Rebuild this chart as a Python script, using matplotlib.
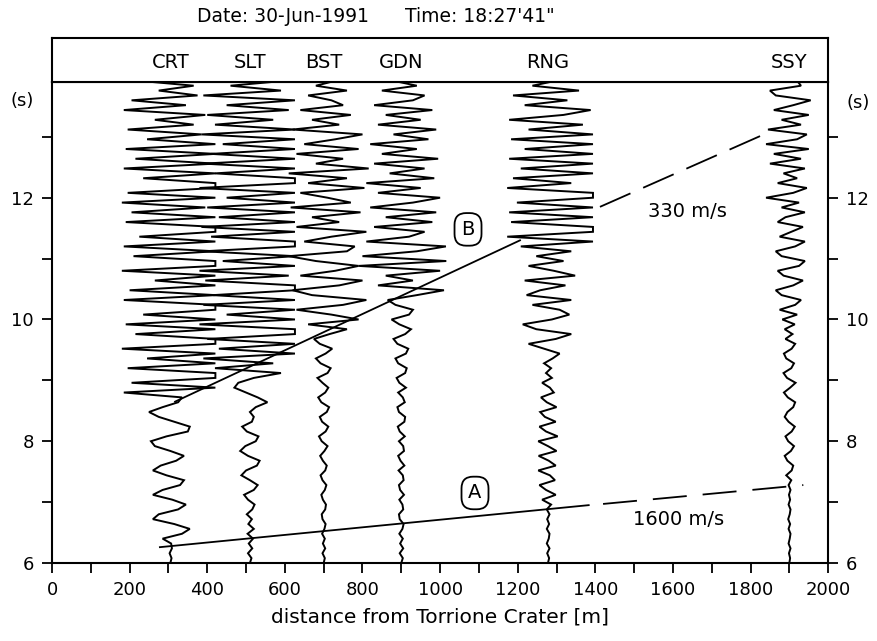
import numpy as np
import matplotlib
matplotlib.use('Agg')
import matplotlib.pyplot as plt
from matplotlib.ticker import MultipleLocator

plt.rcParams['font.family'] = ['DejaVu Sans']
plt.rcParams['lines.scale_dashes'] = False

# stations and their distance from the crater (m)
stations = ['CRT', 'SLT', 'BST', 'GDN', 'RNG', 'SSY']
distance = [305, 510, 700, 900, 1278, 1900]

# traces sampled every 0.08 s from 6.0 s, amplitude as offset in m
t_start = 6.0
dt = 0.08
clip_lo, clip_hi = -130, 116

crt = [0, 3, -2, 4, 2,
       -20, 30, 50, 10, -45, -30, 20, 40, 5, -45, -20, 25, 35, -10, -45,
       -25, 15, 35, 0, -40, -50, -10, 45, 50, 10, -30, -55, -20, 20, 30,
       -120, 200, -100, 200, 200, -110, 200, -60, 150, -125, 200, 200, -90,
       200, -115, 120, -70, 200, 200, -120, 200, -105, 200, -40, 200, -125,
       200, 200, -95, 200, -120, 200, -80, 200, 200, -115, 200, -100, 90,
       -125, 200, -110, 200, 200, -70, 200, -120, 200, -90, 200, -115, 160, -60,
       80, -110, 60, -40, 90, -120, 40, -100, 70, -30, 60, -80]

slt = [0, 4, -5, 6, -3, 8, -6, 10, -4, 5, -8, 6, 12, -5, -15, 10, 20, 0,
       -22, -10, 18, 25, -5, -25, -12, 15, 22, -8, -20, 5, 10, 0, 15, 45, 20,
       -10, -40, -30, 10, 80, -90, 60,
       -120, 200, -80, 200, -110, 200, 200, -130, 150, -60, 200, -120, 200,
       -95, 200, 200, -115, 100, -130, 200, -70, 200, -120, 200, 200, -100,
       200, -125, 140, -80, 200, -110, 200, -60, 200, -130, 200, 200, -90,
       200, -120, 120, -100, 200, -70, 200, -125, 150, -90,
       60, -110, 100, -60, 200, -120, 80, -50, 90]

bst = [0, 3, -3, 4, -2, 3, -4, 2, 5, -3, -5, 4, 6, -2, -6, 3, 7, -3, -8, 4,
       8, -2, -9, 2, 10, -5, -12, 5, 12, -4, -10, 8, 14, -6, -14, 4, 12, -3,
       -16, 10, 18, -8, -20, 5, 22, -10, -25, 15,
       60, -40, 90, 20, -70, 50, 110, -30, -80, 40, 100, -60, 30, 90, -20,
       -90, 60, 80, -50, 20, 110, -70, 40, -30, 95, -85, 70, 10, -60, 105,
       -40, 60, -90, 120, -20, 50, -70, 90, -50, 30, 100, -80, 40, -30, 70,
       -60, 50, 20, -40, 60, -20, 30]

gdn = [0, 4, -4, 5, -3, 4, -5, 3, 6, -4, -6, 5, 3, -5, 7, -3, -6, 6, 4, -7,
       8, -2, -8, 7, 5, -6, 9, -4, -9, 8, 10, -6, -10, 9, 4, -8, 12, -5, -12,
       10, 14, -8, -15, 12, 18, -10, -20, 10, 25, -5, -25, 20, 30, -15, -35, 40,
       110, -60, 30, -40, 100, -110, 120, -100, 40, 115, -90, 20, 60, -70, 80,
       -40, 90, -80, 30, 100, -60, 50, -90, 85, -30, 60, -70, 95, -50, 40,
       -80, 70, -20, 90, -60, 50, -40, 80, -70, 30, 60, -50, 40, -20]

rng = [0, 3, -2, 4, -3, 2, 4, -3, 3, -2, 4, -3,
       8, -15, 20, -5, -22, 18, 5, -25, 20, 2, -24, 22, 0, -25, 25, -5, -22,
       20, -8, -20, 22, -3, -18, 15, 5, -15, 10, -5, 8, -10, 12, 30, -10,
       -50, 20, 60, -30, -65, 10, 55, 30, -40, 60, -55, -20, 45, -60, 70, 15,
       -50, 40, -30, 60, -70,
       200, -105, 200, 200, -95, 200, -100, 200, -80, 200, 200, -105, 60, -90,
       200, -70, 200, -100, 150, -60, 200, -95, 130, -50, 90,
       -100, 40, 110, -60, 50, -90, 80, -40, 20]

ssy = [0, 2, -1, 3, -2, 1, 3, -2, 2, -3, 1, 3, -2, 2, -1, 3, -2,
       5, -8, 6, 10, -5, -12, 4, 12, -3, -10, 6, 14, -2, -12, -5, 10, 15, -4,
       -14, 2, 16, -6, -15, 5, 12, -8, -14, 6, 15, -10, 8, -12, 14, -18,
       20, -25, 15, 30, -20, -35, 10, 35, -15, -30, 25, 40, -20, -35, 15, 40,
       -25, 5, 35, -30, -10, 40, -20, 25, -60, 10, 45, -30, 20, -15, 40, -50,
       30, -40, 50, -60, 20, 45, -55, 30, -20, 50, -40, 10, 55, -35, -50, 30, 20]

traces = [crt, slt, bst, gdn, rng, ssy]

# travel-time lines: solid part then dashed extrapolation (distance m, time s)
line_a_solid = ([278, 1383], [6.26, 6.95])
line_a_dash = ([1420, 1936], [6.97, 7.28])
line_b_solid = ([317, 1206], [8.65, 11.30])
line_b_dash = ([1412, 1838], [11.85, 13.05])

fig = plt.figure(figsize=(8.77, 6.41), dpi=100)
ax = fig.add_axes([0.0593, 0.1217, 0.885, 0.7503])
head = fig.add_axes([0.0593, 0.872, 0.885, 0.0686])

for name, x0, amp in zip(stations, distance, traces):
    amp = np.clip(np.array(amp, dtype=float), clip_lo, clip_hi)
    t = t_start + dt * np.arange(len(amp))
    ax.plot(x0 + amp, t, color='black', lw=1.4, solid_joinstyle='miter')
    head.text(x0, 0.45, name, ha='center', va='center', fontsize=14)

ax.plot(*line_a_solid, color='black', lw=1.3)
ax.plot(*line_a_dash, color='black', lw=1.3, linestyle=(0, (24.5, 11.5)))
ax.plot(*line_b_solid, color='black', lw=1.3)
ax.plot(*line_b_dash, color='black', lw=1.3, linestyle=(0, (24, 10)))

box = dict(boxstyle='round,pad=0.35,rounding_size=0.6', fc='white', ec='black', lw=1.3)
ax.text(1072, 11.48, 'B', ha='center', va='center', fontsize=14, bbox=box)
ax.text(1090, 7.15, 'A', ha='center', va='center', fontsize=14, bbox=box)
ax.text(1637, 11.77, '330 m/s', ha='center', va='center', fontsize=14)
ax.text(1615, 6.72, '1600 m/s', ha='center', va='center', fontsize=14)

ax.set_xlim(0, 2000)
ax.set_ylim(6, 13.9)
ax.xaxis.set_major_locator(MultipleLocator(200))
ax.xaxis.set_minor_locator(MultipleLocator(100))
ax.yaxis.set_major_locator(MultipleLocator(2))
ax.yaxis.set_minor_locator(MultipleLocator(1))
ax.tick_params(which='both', direction='out', length=7, width=1.3,
               right=True, labelright=True, labelsize=13, pad=6)
ax.set_xlabel('distance from Torrione Crater [m]', fontsize=14.5, labelpad=6)
for s in ax.spines.values():
    s.set_linewidth(1.5)

head.set_xlim(0, 2000)
head.set_ylim(0, 1)
head.set_xticks([])
head.set_yticks([])
for s in head.spines.values():
    s.set_linewidth(1.5)

fig.text(0.428, 0.975, 'Date: 30-Jun-1991      Time: 18:27\'41"',
         ha='center', va='center', fontsize=13.5)
fig.text(0.025, 0.843, '(s)', ha='center', va='center', fontsize=13)
fig.text(0.978, 0.839, '(s)', ha='center', va='center', fontsize=13)

fig.savefig('out.png', dpi=100)
